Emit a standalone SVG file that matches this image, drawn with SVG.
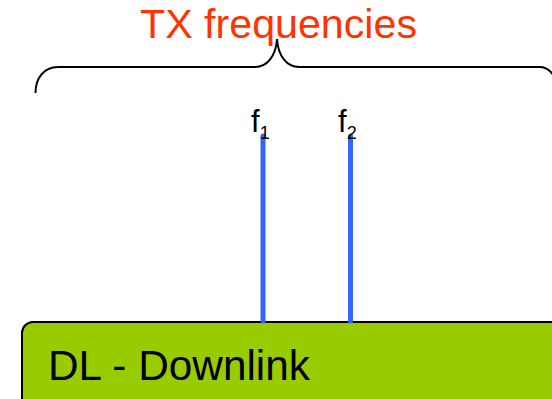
<svg xmlns="http://www.w3.org/2000/svg" width="552" height="399" viewBox="0 0 552 399">
<style>
.t{font-family:"Liberation Sans",Arial,sans-serif;fill:#000}
.f{stroke:#3366FF;stroke-width:5;stroke-linecap:round;fill:none}
</style>
<rect width="552" height="399" fill="#fff"/>
<g id="title"><text class="t" x="140" y="38" font-size="40" style="fill:#FF3300" textLength="277" lengthAdjust="spacingAndGlyphs">TX frequencies</text></g>
<g id="brace"><path d="M35.5,93 C35.5,78 44,67 58,67 L255,67 C267,67 276,56 277,39 C278,56 287,67 299,67 L540,67 C546,67 550,70 554,76" fill="none" stroke="#000" stroke-width="2"/></g>
<g id="downlink"><rect x="22" y="322" width="560" height="100" rx="11" fill="#99CC00" stroke="#000" stroke-width="2"/>
<text class="t" x="48" y="380" font-size="42" textLength="262" lengthAdjust="spacingAndGlyphs">DL - Downlink</text></g>
<g id="connectors">
<line class="f" x1="263" y1="136" x2="263" y2="321"/>
<line class="f" x1="350.5" y1="136" x2="350.5" y2="321"/>
</g>
<g id="f1"><text class="t" x="251" y="132" font-size="31">f<tspan font-size="18" dy="7">1</tspan></text></g>
<g id="f2"><text class="t" x="338" y="132" font-size="31">f<tspan font-size="18" dy="7">2</tspan></text></g>
</svg>
